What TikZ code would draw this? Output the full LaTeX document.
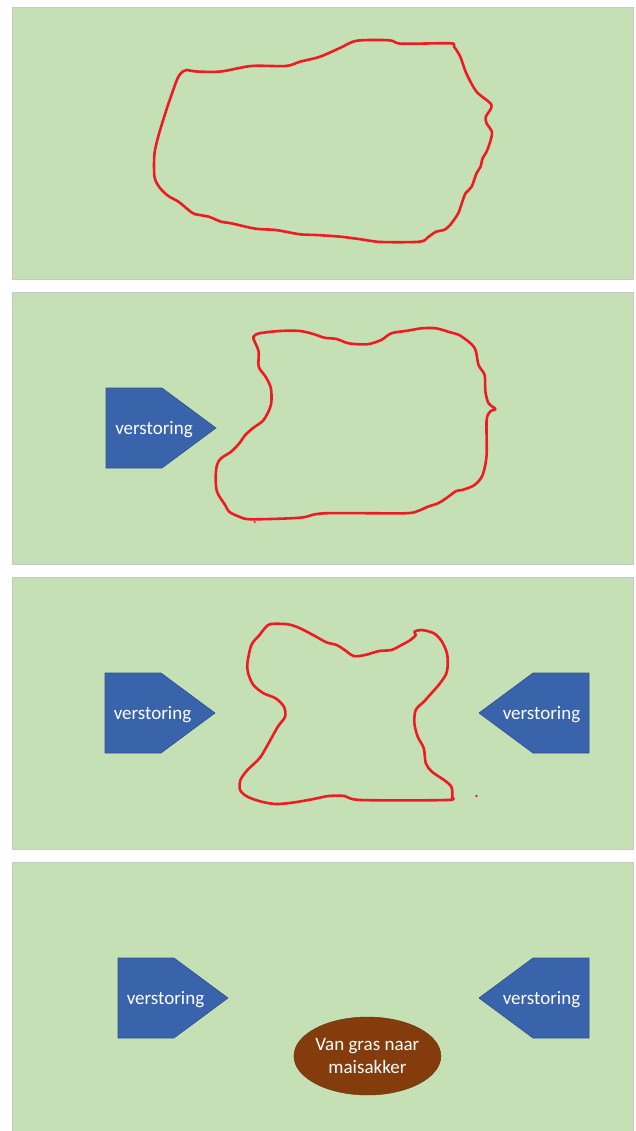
\documentclass[tikz,border=0pt]{standalone}
\usepackage{fontspec}
\setmainfont{Carlito}
\usetikzlibrary{shapes.geometric}

\definecolor{gras}{HTML}{C5E0B4}   % grasland
\definecolor{rand}{RGB}{200,200,200}
\definecolor{rood}{RGB}{237,28,36} % grens leefgebied
\definecolor{blauw}{RGB}{57,99,171}
\definecolor{blauwrand}{RGB}{47,82,143}
\definecolor{bruin}{HTML}{843C0C}  % akker

\begin{document}
\begin{tikzpicture}[
    x=1pt, y=-1pt,
    veld/.style={fill=gras, draw=rand, line width=0.8},
    grens/.style={draw=rood, line width=2.6, line join=round, line cap=round},
    pijl/.style={fill=blauw, draw=blauwrand, line width=0.6},
    tekst/.style={text=white, font=\fontsize{19}{23}\selectfont, inner sep=0pt, yshift=-2pt},
    akker/.style={ellipse, fill=bruin, draw=bruin!80!black, line width=0.4, minimum width=141, minimum height=78, align=center, text=white, font=\fontsize{19}{23}\selectfont, inner sep=0pt}
]
\useasboundingbox (0,0) rectangle (635,1131);

% Panels
\draw[veld] (12,7) rectangle (633.5,279);
\draw[veld] (12,292) rectangle (633.5,564);
\draw[veld] (12,577) rectangle (633.5,849);
\draw[veld] (12,862) rectangle (633.5,1140);

% Leefgebied 1
\draw[grens] plot[smooth cycle, tension=0.5] coordinates {
  (186.5,70) (196.7,71.5) (221,71.5) (251.4,66) (285.9,66) (300,61.7) (320,56.7)
  (340.6,47.7) (356.9,40.7) (389.3,40.3) (401.5,43.7) (450,43.3) (454,46.7)
  (460.3,56.7) (466.3,73.3) (476.5,91.7) (491.5,105) (485.8,116.7) (486.6,123.3)
  (491.9,131.7) (490.7,140) (486.6,151.7) (482.6,158.3) (480.5,166.7) (476.5,173.3)
  (471.6,186.7) (465.5,193.3) (462.3,201.7) (458.2,213.3) (450.1,225) (444,230)
  (436,231.7) (427.8,237.3) (419.7,241.7) (381.2,242) (360.9,239.3) (340.6,236.7)
  (316.3,235) (300,234.3) (275.7,230) (255.5,228.7) (231.1,223.3) (221,221.7)
  (208.8,216.7) (194.6,214) (188.6,210) (178.4,201.7) (168.3,196) (160.2,188.3)
  (155.3,180) (154.1,171.7) (154.5,153.3) (158.2,136.7) (164.2,116.7) (170.3,98.3)
  (177.6,78.3) (182.5,71.7)};

% Leefgebied 2
\draw[grens] plot[smooth cycle, tension=0.5] coordinates {
  (253.4,336.7) (259.5,333.3) (279.8,331) (300.1,331) (314.3,334.3) (324.4,337.7)
  (336.6,339) (348.7,343.3) (367,344.3) (381.2,340) (391.3,333.3) (407.5,330.7)
  (421.7,328.3) (435.9,328.3) (450.1,332.3) (460.3,335.7) (474.5,347.7) (478.5,365)
  (484.6,375) (485.4,391.7) (488.6,403.3) (495.5,409) (490.7,411) (486.6,420)
  (486.6,455) (482.6,475) (474.5,485) (462.3,490) (456.2,491) (446.1,498.3)
  (438,503.3) (427.8,506.7) (417.7,511) (403.5,513.3) (324.4,513.3) (300.1,517.7)
  (251.4,519.3) (239.3,516.7) (229.1,511.7) (225.1,505) (217,491.7) (215.7,476.7)
  (217,465) (221,458.3) (231.1,451.7) (239.3,443.3) (245.3,435) (253.4,427.7)
  (263.6,420) (270.9,405) (270.9,388.3) (265.6,376.7) (258.7,366.7) (258.7,351.7)
  (254.7,341.7)};
\fill[rood] (254.7,522) circle (1.1);

% Leefgebied 3
\draw[grens] plot[smooth cycle, tension=0.5] coordinates {
  (270.9,624) (287.9,624.3) (300.1,628.3) (314.3,635.7) (326.4,642.3) (336.6,645)
  (344.7,650) (353.6,656) (365,655) (379.2,651) (391.3,650) (401.5,645) (410.4,640)
  (415.7,635) (414.4,631.7) (421.7,630) (433.9,633.3) (442,641.7) (447.3,655)
  (446.9,671.7) (440,683.3) (429.8,695) (423.8,701.7) (415.7,710) (414.4,723.3)
  (417.7,736.7) (423.8,748.3) (425.8,763.3) (431.9,771.7) (444,780) (451.3,786.7)
  (452.1,796.7) (446.1,800) (360.9,800) (344.7,796) (328.5,796) (312.2,799.3)
  (292,802.7) (275.7,804) (261.6,801.7) (247.4,796.7) (240.1,790) (240.5,780)
  (247.4,770) (259.5,758.3) (267.6,745) (277.8,726.7) (285.1,716.7) (283.9,706.7)
  (275.7,698.3) (263.6,693.3) (253.4,685) (248.2,673.3) (247.4,663.3) (251.4,645)
  (259.5,635) (265.6,627.3)};
\fill[rood] (476.5,796) circle (1.4);

% Verstoringen van links
\foreach \x/\y in {106/428, 105/713, 118/998}
  \draw[pijl] (\x,\y-40) -- ++(56,0) -- ++(54,40) -- ++(-54,40) -- ++(-56,0) -- cycle;
% Verstoringen van rechts
\foreach \x/\y in {589/713, 589/998}
  \draw[pijl] (\x,\y-40) -- ++(-56,0) -- ++(-54,40) -- ++(54,40) -- ++(56,0) -- cycle;

\node[tekst] (links2) at (154,428) {verstoring};
\node[tekst] (links3) at (152.5,713) {verstoring};
\node[tekst] (rechts3) at (541.5,713) {verstoring};
\node[tekst] (links4) at (165.5,998) {verstoring};
\node[tekst] (rechts4) at (541.5,998) {verstoring};

\node[akker] (mais) at (367.4,1056) {Van gras naar\\maisakker};

\end{tikzpicture}
\end{document}
